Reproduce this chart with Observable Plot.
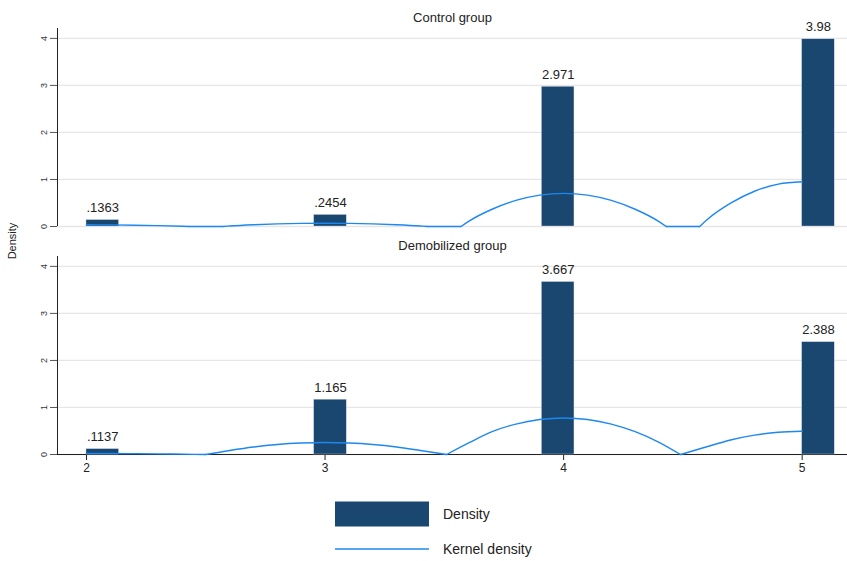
<!DOCTYPE html>
<html>
<head>
<meta charset="utf-8">
<script src="https://cdn.jsdelivr.net/npm/d3@7"></script>
<script src="https://cdn.jsdelivr.net/npm/@observablehq/plot@0.6"></script>
<style>
  body { margin: 0; background: #fff; font-family: "Liberation Sans", Arial, sans-serif; }
  #chart { width: 847px; }
</style>
</head>
<body>
<div id="chart"></div>
<script>
// Panels
const groups = ["Control group", "Demobilized group"];

// Histogram: score values, bin position (bins of width 3/22 starting at 2) and density
const scores = [2, 3, 4, 5];
const binStart = 2;
const binWidth = 3 / 22;
const binIndex = [0, 7, 14, 22];
const controlDensity = [0.1363, 0.2454, 2.971, 3.98];
const demobilizedDensity = [0.1137, 1.165, 3.667, 2.388];

// Kernel density estimates
const controlKdeX = [2.00, 2.10, 2.20, 2.30, 2.40, 2.43, 2.57, 2.60, 2.70, 2.80, 2.90, 3.00, 3.10, 3.20, 3.30, 3.40, 3.43,
  3.57, 3.60, 3.70, 3.80, 3.90, 4.00, 4.10, 4.20, 4.30, 4.40, 4.43, 4.57, 4.60, 4.70, 4.80, 4.90, 5.00];
const controlKdeY = [0.036, 0.034, 0.028, 0.019, 0.005, 0, 0, 0.010, 0.036, 0.055, 0.066, 0.070, 0.066, 0.055, 0.036, 0.010, 0,
  0, 0.104, 0.367, 0.555, 0.668, 0.705, 0.668, 0.555, 0.367, 0.104, 0, 0, 0.140, 0.495, 0.750, 0.902, 0.952];
const demobilizedKdeX = [2.0, 2.1, 2.2, 2.3, 2.4, 2.5, 2.6, 2.7, 2.8, 2.9, 3.0, 3.1, 3.2, 3.3, 3.4, 3.51,
  3.6, 3.7, 3.8, 3.9, 4.0, 4.1, 4.2, 4.3, 4.4, 4.49, 4.6, 4.7, 4.8, 4.9, 5.0];
const demobilizedKdeY = [0.022, 0.021, 0.018, 0.014, 0.007, 0, 0.085, 0.159, 0.212, 0.243, 0.254, 0.243, 0.212, 0.159, 0.085, 0,
  0.24, 0.486, 0.647, 0.744, 0.777, 0.744, 0.647, 0.486, 0.26, 0, 0.165, 0.309, 0.411, 0.473, 0.494];

// Axes
const yTicks = [0, 1, 2, 3, 4];
const xDomain = [1.8785, 5.19];
const yDomain = [0, 4.21];

const barColor = "#1a476f";
const kdeColor = "#1e88f0";

const densities = [controlDensity, demobilizedDensity];
const bars = groups.flatMap((g, gi) => scores.map((s, i) => ({
  group: g,
  score: s,
  x1: binStart + binIndex[i] * binWidth,
  x2: binStart + (binIndex[i] + 1) * binWidth,
  density: densities[gi][i]
})));

// Split each estimate into pieces at its zero points so the joins stay sharp
function pieces(group, xs, ys) {
  const out = [];
  let seg = 0;
  xs.forEach((x, i) => {
    out.push({group, seg: group + seg, x, y: ys[i]});
    if (ys[i] === 0 && i > 0 && i < xs.length - 1) {
      seg++;
      out.push({group, seg: group + seg, x, y: ys[i]});
    }
  });
  return out;
}
const kde = [
  ...pieces(groups[0], controlKdeX, controlKdeY),
  ...pieces(groups[1], demobilizedKdeX, demobilizedKdeY)
];

// Stata-style number labels: drop the leading zero
const fmt = v => String(v).replace(/^0\./, ".");

const chart = Plot.plot({
  width: 847,
  height: 485,
  marginLeft: 57,
  marginRight: 0,
  marginTop: 27,
  marginBottom: 30,
  style: {fontFamily: "Liberation Sans, Arial, sans-serif", background: "white", color: "#222"},
  x: {domain: xDomain},
  y: {domain: yDomain},
  fy: {domain: groups, axis: null, paddingInner: 0.131, paddingOuter: 0},
  marks: [
    Plot.gridY(yTicks, {stroke: "#e6e6e6", strokeOpacity: 1, strokeWidth: 1.3}),
    Plot.ruleX([xDomain[0]], {stroke: "#222", strokeWidth: 1}),
    Plot.ruleY(bars.filter(d => d.group === groups[1] && d.score === scores[0]), {y: 0, fy: "group", stroke: "#222", strokeWidth: 1}),
    Plot.axisY(yTicks, {tickSize: 7, tickPadding: 4, tickRotate: -90, fontSize: 9, stroke: "#555", color: "#333", label: null}),
    Plot.axisX(scores, {tickSize: 6, tickPadding: 3, fontSize: 12, stroke: "#222", color: "#222", label: null, tickFormat: d => d}),
    Plot.rectY(bars, {x1: "x1", x2: "x2", y: "density", fy: "group", fill: barColor, stroke: "#c9d6e3", strokeWidth: 0.4}),
    Plot.line(kde, {x: "x", y: "y", z: "seg", fy: "group", stroke: kdeColor, strokeWidth: 1.4, curve: "monotone-x"}),
    Plot.text(bars, {x: d => (d.x1 + d.x2) / 2, y: "density", fy: "group", text: d => fmt(d.density),
      dy: -12, fontSize: 13, fill: "#222"}),
    Plot.text(groups, {fy: d => d, text: d => d, frameAnchor: "top", dy: -16, fontSize: 13, fill: "#222"})
  ]
});

const holder = document.getElementById("chart");
holder.appendChild(chart);

// Shared y-axis title
d3.select(chart).append("text")
  .attr("transform", "translate(13,241) rotate(-90)")
  .attr("text-anchor", "middle")
  .attr("dominant-baseline", "middle")
  .attr("font-size", 11)
  .attr("fill", "#222")
  .text("Density");

// Legend below the panels
const legendItems = [
  {label: "Density", kind: "bar"},
  {label: "Kernel density", kind: "line"}
];
const legend = d3.select(holder).append("svg")
  .attr("width", 847).attr("height", 76)
  .style("display", "block")
  .style("font-family", "Liberation Sans, Arial, sans-serif");
legendItems.forEach((item, i) => {
  const cy = 29 + i * 35;
  if (item.kind === "bar") {
    legend.append("rect").attr("x", 335).attr("y", cy - 12.5).attr("width", 94).attr("height", 25).attr("fill", barColor);
  } else {
    legend.append("line").attr("x1", 335).attr("x2", 429).attr("y1", cy).attr("y2", cy)
      .attr("stroke", kdeColor).attr("stroke-width", 1.6);
  }
  legend.append("text").attr("x", 443).attr("y", cy + 1).attr("dominant-baseline", "middle")
    .attr("font-size", 14).attr("fill", "#222").text(item.label);
});
</script>
</body>
</html>
